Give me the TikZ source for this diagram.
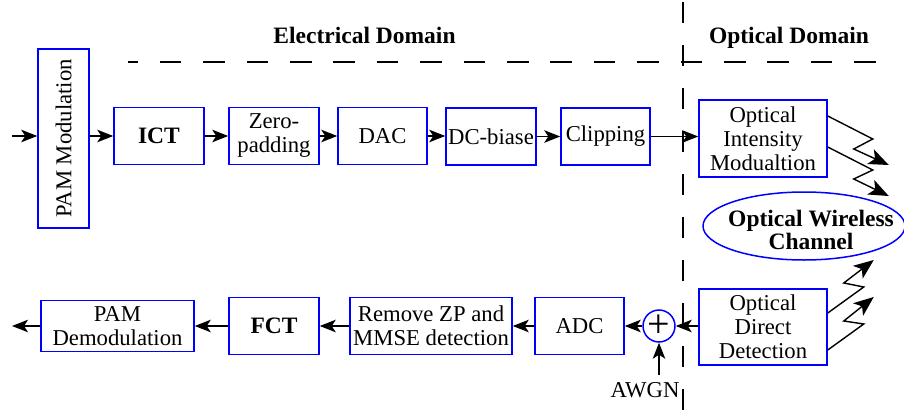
\documentclass[tikz,border=0pt]{standalone}
\usepackage{fontspec}
\setmainfont{Liberation Serif}
\usetikzlibrary{arrows.meta,shapes.geometric}
\begin{document}
\begin{tikzpicture}[x=1pt,y=-1pt,
  blk/.style={draw=blue, line width=1.5pt, inner sep=1pt, align=center,
    font=\fontsize{22.7}{24}\selectfont},
  bbold/.style={font=\fontsize{23.5}{23}\selectfont\bfseries, align=center},
  arr/.style={line width=1.4pt, -{Stealth[length=16pt,width=12.5pt,inset=4pt]}},
  zig/.style={line width=1.4pt, -{Stealth[length=20pt,width=16pt,inset=5pt]}},
  dashline/.style={line width=2.6pt, dash pattern=on 21.7pt off 21.7pt}]
\useasboundingbox (0,0) rectangle (904,415);
% dashed domain separators
\draw[dashline, dash phase=11.7pt] (128,62) -- (878,62);
\draw[dashline, dash pattern=on 21pt off 22pt] (683,2) -- (683,415);
% titles
\node[bbold, anchor=base] (tel) at (364.5,43) {Electrical Domain};
\node[bbold, anchor=base] (top) at (789,43) {Optical Domain};
% top row
\node[blk, rotate=90, minimum width=179pt, minimum height=51pt] (pam) at (63.5,138.5) {PAM Modulation};
\node[blk, minimum width=90pt, minimum height=57pt, font=\fontsize{23.5}{24}\selectfont\bfseries] (ict) at (159,136) {ICT};
\node[blk, minimum width=90pt, minimum height=57pt] (zp) at (274,136) {Zero-\\padding};
\node[blk, minimum width=89pt, minimum height=57pt] (dac) at (382.5,136) {DAC};
\node[blk, minimum width=90pt, minimum height=57pt] (dc) at (491,136.5) {DC-biase};
\node[blk, minimum width=89pt, minimum height=57pt] (clip) at (605.5,136.5) {Clipping};
\node[blk, minimum width=128pt, minimum height=77pt] (oim) at (763,138.5) {Optical\\Intensity\\Modualtion};
% channel
\node[ellipse, draw=blue, line width=1.5pt, minimum width=202pt, minimum height=68pt, inner sep=0pt] (owc) at (804,226) {};
\node[bbold] (owct) at (811,230) {Optical Wireless\\Channel};
% bottom row
\node[blk, minimum width=128pt, minimum height=76pt] (odd) at (763,327) {Optical\\Direct\\Detection};
\node[circle, draw=blue, line width=1.5pt, minimum size=31pt, inner sep=0pt, font=\fontsize{40}{40}\selectfont] (add) at (659,326) {+};
\node[blk, minimum width=89pt, minimum height=57pt] (adc) at (579.5,326) {ADC};
\node[blk, minimum width=162pt, minimum height=57pt, inner sep=0pt] (rzp) at (431,326) {Remove ZP and\\MMSE detection};
\node[blk, minimum width=90pt, minimum height=57pt, font=\fontsize{23.5}{24}\selectfont\bfseries] (fct) at (274,326) {FCT};
\node[blk, minimum width=153pt, minimum height=51pt] (pamd) at (117.5,326) {PAM\\Demodulation};
\node[font=\fontsize{22.7}{24}\selectfont, anchor=base, inner sep=0pt] (awgn) at (645,397) {AWGN};
\coordinate (in) at (12,136);
\coordinate (out) at (12,326);
\coordinate (nz) at (659,375);
% top connectors
\draw[arr] (in) -- (in -| pam.north);
\draw[arr] (pam.south |- ict) -- (ict.west);
\draw[arr] (ict.east) -- (zp.west);
\draw[arr] (zp.east) -- (dac.west);
\draw[arr] (dac.east) -- (dac.east -| dc.west);
\draw[arr] (dc.east) -- (clip.west);
\draw[arr] (clip.east) -- (clip.east -| oim.west);
% zigzags
\draw[zig] ([yshift=22.5pt]oim.east) -- ++(45,23) -- ++(-19,10) -- ++(35,16);
\draw[zig] ([yshift=-8.5pt]oim.east) -- ++(45,23) -- ++(-19,9) -- ++(35,17);
\draw[zig] ([yshift=14pt]odd.east) -- ++(36,-26) -- ++(-20,-4) -- ++(30,-23);
\draw[zig] ([yshift=-23pt]odd.east) -- ++(36,-26) -- ++(-20,-3) -- ++(30,-24);
% bottom connectors
\draw[arr] (odd.west |- add) -- (add.east);
\draw[arr] (nz) -- (add.south);
\draw[arr] (add.west) -- (adc.east);
\draw[arr] (adc.west) -- (rzp.east);
\draw[arr] (rzp.west) -- (fct.east);
\draw[arr] (fct.west) -- (pamd.east);
\draw[arr] (pamd.west) -- (out);
\end{tikzpicture}
\end{document}
